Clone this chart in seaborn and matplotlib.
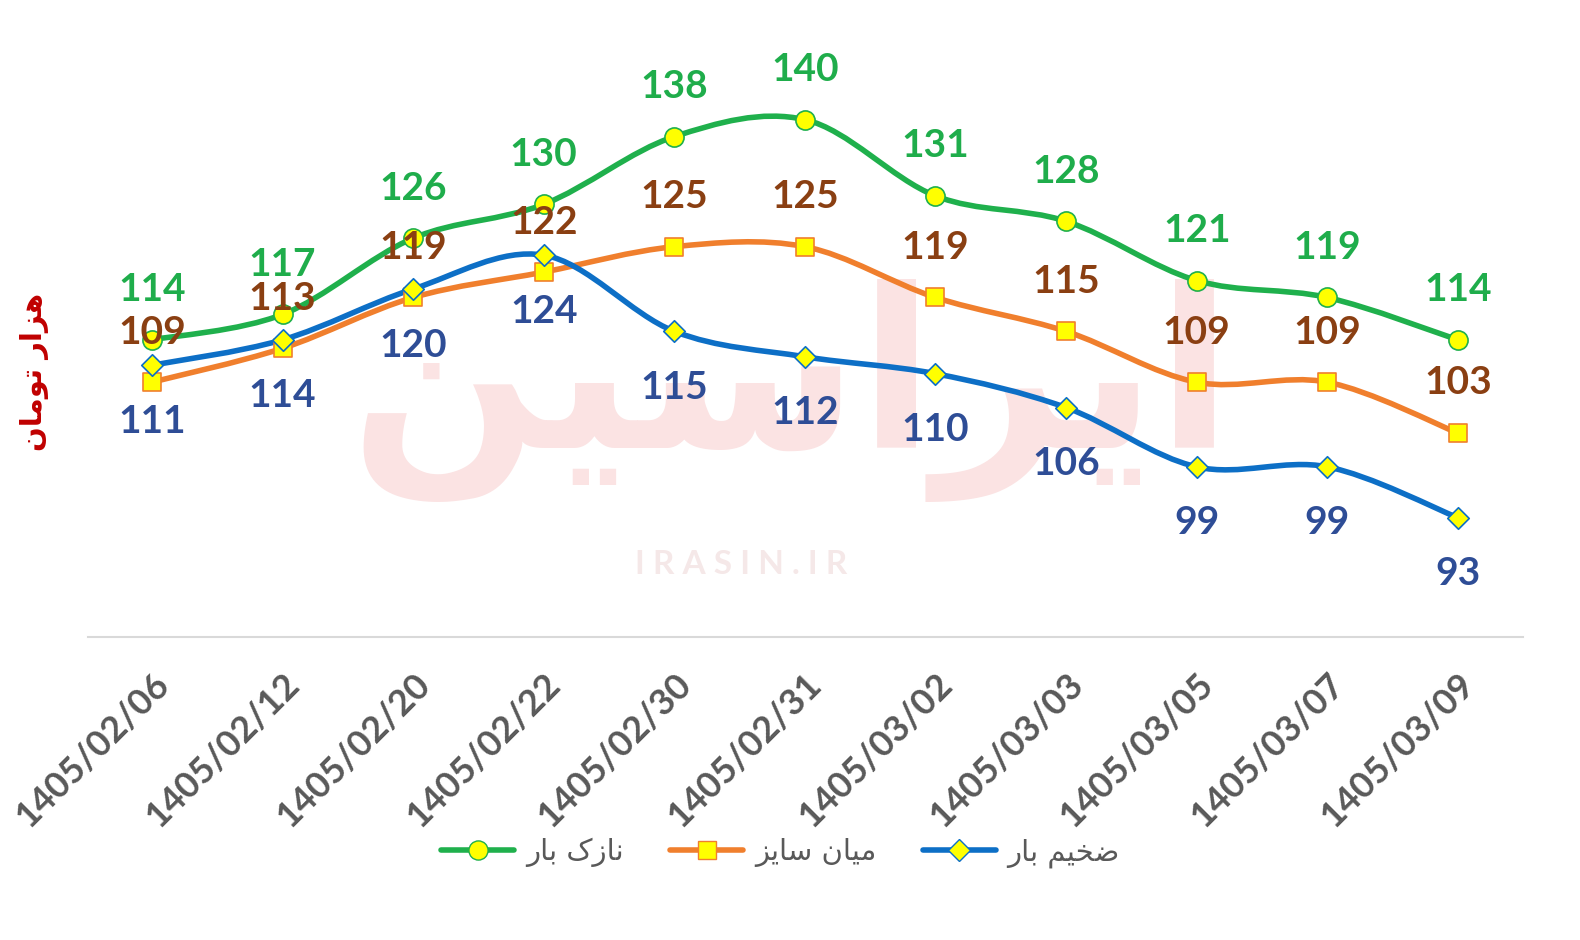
import numpy as np
import pandas as pd
import seaborn as sns
import matplotlib
matplotlib.use("Agg")
import matplotlib.pyplot as plt
from matplotlib.path import Path
from matplotlib.patches import PathPatch
from matplotlib.lines import Line2D

# %% data ──────────────────────────────────────────────────────────────────
dates = ["1405/02/06", "1405/02/12", "1405/02/20", "1405/02/22", "1405/02/30",
         "1405/02/31", "1405/03/02", "1405/03/03", "1405/03/05", "1405/03/07",
         "1405/03/09"]
thin = [114, 117, 126, 130, 138, 140, 131, 128, 121, 119, 114]
mid = [109, 113, 119, 122, 125, 125, 119, 115, 109, 109, 103]
thick = [111, 114, 120, 124, 115, 112, 110, 106, 99, 99, 93]
names = ["نازک بار", "میان سایز", "ضخیم بار"]
y_label = "هزار تومان"

# %% minimal Persian shaping (matplotlib has no bidi / joining) ─────────────
FORMS = {  # iso, fin, init, med
    "ا": ("\uFE8D", "\uFE8E", None, None),
    "ب": ("\uFE8F", "\uFE90", "\uFE91", "\uFE92"),
    "ت": ("\uFE95", "\uFE96", "\uFE97", "\uFE98"),
    "خ": ("\uFEA5", "\uFEA6", "\uFEA7", "\uFEA8"),
    "ر": ("\uFEAD", "\uFEAE", None, None),
    "ز": ("\uFEAF", "\uFEB0", None, None),
    "س": ("\uFEB1", "\uFEB2", "\uFEB3", "\uFEB4"),
    "ض": ("\uFEBD", "\uFEBE", "\uFEBF", "\uFEC0"),
    "م": ("\uFEE1", "\uFEE2", "\uFEE3", "\uFEE4"),
    "ن": ("\uFEE5", "\uFEE6", "\uFEE7", "\uFEE8"),
    "ه": ("\uFEE9", "\uFEEA", "\uFEEB", "\uFEEC"),
    "و": ("\uFEED", "\uFEEE", None, None),
    "ک": ("\uFB8E", "\uFB8F", "\uFB90", "\uFB91"),
    "ی": ("\uFBFC", "\uFBFD", "\uFBFE", "\uFBFF"),
}


def shape(text):
    out = []
    for i, c in enumerate(text):
        if c not in FORMS:
            out.append(c)
            continue
        prev = text[i - 1] if i > 0 else ""
        nxt = text[i + 1] if i + 1 < len(text) else ""
        jp = prev in FORMS and FORMS[prev][2] is not None
        jn = FORMS[c][2] is not None and nxt in FORMS
        iso, fin, ini, med = FORMS[c]
        if jp and jn:
            out.append(med)
        elif jn:
            out.append(ini)
        elif jp:
            out.append(fin)
        else:
            out.append(iso)
    return "".join(out)[::-1]


def smooth_path(xs, ys):
    # Excel-style smoothed line: Catmull-Rom as cubic Bezier segments
    p = np.column_stack([xs, ys]).astype(float)
    verts = [p[0]]
    codes = [Path.MOVETO]
    n = len(p)
    for i in range(n - 1):
        p0 = p[i - 1] if i > 0 else p[i]
        p3 = p[i + 2] if i + 2 < n else p[i + 1]
        c1 = p[i] + (p[i + 1] - p0) / 6
        c2 = p[i + 1] - (p3 - p[i]) / 6
        verts += [c1, c2, p[i + 1]]
        codes += [Path.CURVE4] * 3
    return Path(verts, codes)


# %% plot ──────────────────────────────────────────────────────────────────
sns.set_theme(style="white")
plt.rcParams["font.family"] = ["Lato", "DejaVu Sans"]

df = pd.DataFrame({"x": np.arange(len(dates)), "thin": thin, "mid": mid, "thick": thick})

series = [
    ("thin", "#1fb04c", "o", 190, "#1fad4b", -50),
    ("mid", "#f07f2d", "s", 150, "#8a3f12", -50),
    ("thick", "#0d6fc6", "D", 120, "#2e4d96", 56),
]

fig = plt.figure(figsize=(15.8, 9.4), dpi=100)
ax = fig.add_axes([0.0557, 0.3223, 0.9083, 0.6567])

# watermark
ax.text(0.49, 0.40, shape("ایراسین"), transform=ax.transAxes, ha="center", va="center",
        fontsize=160, fontweight="bold", color="#fbe3e3", family="DejaVu Sans", zorder=0.5)
ax.text(0.455, 0.118, "I R A S I N . I R", transform=ax.transAxes, ha="center", va="center",
        fontsize=24, fontweight="bold", color="#f5e8e8", zorder=0.5)

handles = []
for (col, lc, mk, ms, tc, off), name in zip(series, names):
    ax.add_patch(PathPatch(smooth_path(df["x"], df[col]), facecolor="none",
                           edgecolor=lc, lw=4, capstyle="round", zorder=2))
    sns.scatterplot(data=df, x="x", y=col, marker=mk, s=ms, color="#ffff00",
                    edgecolor=lc, linewidth=1.2, zorder=3, ax=ax, legend=False)
    for xv, yv in zip(df["x"], df[col]):
        ax.annotate(str(yv), (xv, yv), xytext=(0, -off), textcoords="offset pixels",
                    ha="center", va="center", fontsize=28, fontweight="bold",
                    color=tc, zorder=4)
    handles.append(Line2D([0], [0], color=lc, lw=4, marker=mk, markersize=ms ** 0.5,
                          markerfacecolor="#ffff00", markeredgecolor=lc, label=shape(name)))

ax.set_xlim(-0.49, 10.5)
ax.set_ylim(78.9, 151.8)
ax.set_xticks(df["x"])
ax.set_xticklabels(dates, rotation=45, ha="right", rotation_mode="anchor",
                   fontsize=26, fontweight="bold", color="#595959")
ax.set_yticks([])
ax.set_xlabel("")
ax.set_ylabel("")
ax.tick_params(axis="x", length=0, pad=22)
for s in ["top", "left", "right"]:
    ax.spines[s].set_visible(False)
ax.spines["bottom"].set_color("#d9d9d9")
ax.spines["bottom"].set_linewidth(1.5)

fig.text(0.022, 1 - 372 / 940, shape(y_label), rotation=90, ha="center", va="center",
         fontsize=21, fontweight="bold", color="#c00000", family="DejaVu Sans")

leg = fig.legend(handles=handles, loc="center", bbox_to_anchor=(0.494, 0.0926), ncol=3,
                 frameon=False, handlelength=2.5, columnspacing=1.6, handletextpad=0.4,
                 prop={"family": "DejaVu Sans", "size": 21})
for t in leg.get_texts():
    t.set_color("#595959")

fig.savefig("out.png", dpi=100)
